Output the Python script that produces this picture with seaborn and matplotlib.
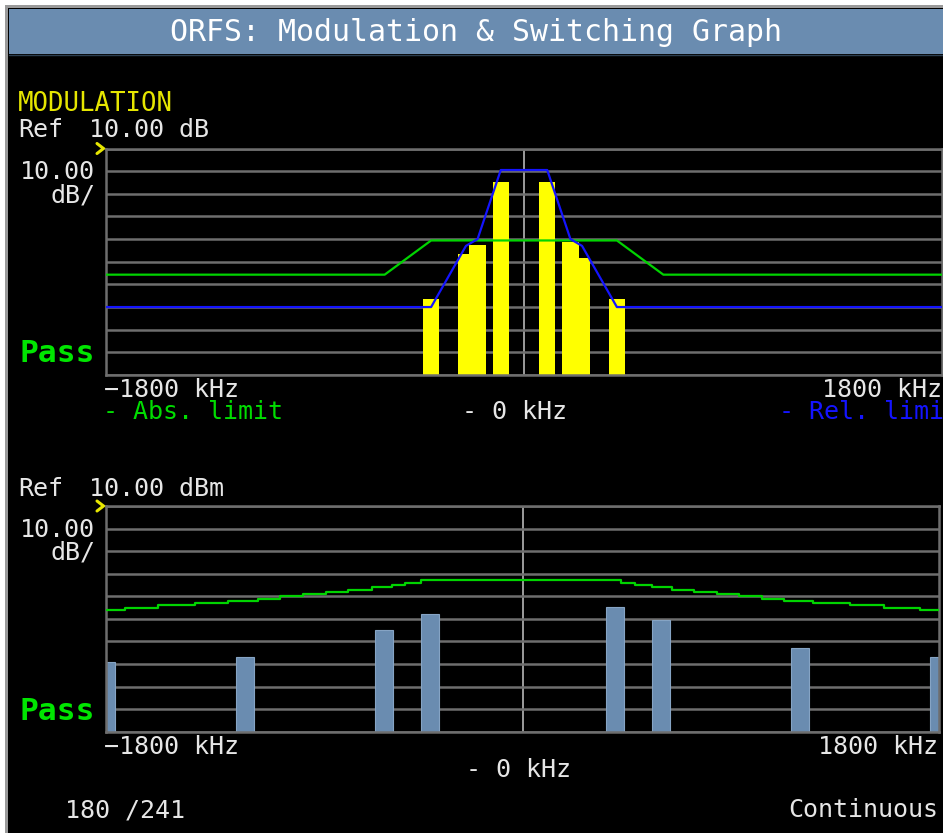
import matplotlib
matplotlib.use("Agg")
import matplotlib.pyplot as plt
import seaborn as sns
import pandas as pd
from matplotlib.patches import Rectangle

# ---------------- data ----------------
# Modulation spectrum (relative dB) measured at offsets (kHz)
mod_offsets_khz = [-400, -250, -200, -100, 100, 200, 250, 400]
mod_levels_db = [-56.4, -36.5, -32.5, -4.6, -4.6, -31.1, -38.2, -56.4]

# Modulation limits
abs_limit_x = [-1800, -600, -400, 400, 600, 1800]
abs_limit_db = [-45.7, -45.7, -30.6, -30.6, -45.7, -45.7]
rel_limit_x = [-1800, -400, -250, -200, -100, 100, 200, 250, 400, 1800]
rel_limit_db = [-60, -60, -33, -30, 0.5, 0.5, -30, -33, -60, -60]

# Switching transients (dBm) at offsets (kHz)
sw_offsets_khz = [-1800, -1200, -600, -400, 400, 600, 1200, 1800]
sw_levels_dbm = [-59.0, -56.8, -44.9, -37.9, -34.9, -40.5, -52.8, -56.8]

# Switching limit (staircase)
sw_limit_x = [-1800, -1716, -1572, -1414, -1270, -1141, -1047, -946, -850, -752,
              -651, -565, -507, -438, 424, 486, 558, 644, 742, 838, 936, 1035,
              1130, 1256, 1414, 1562, 1716, 1800]
sw_limit_dbm = [-36, -35, -34, -33, -32, -31, -30, -29, -28, -27, -26, -25, -24,
                -23, -24, -25, -26, -27, -28, -29, -30, -31, -32, -33, -34, -35,
                -36, -36]

ref_level = 10
db_per_div = 10
n_div = 10
floor_level = ref_level - db_per_div * n_div  # -90

# ---------------- style ----------------
W, H = 943, 833
DPI = 100
sns.set_theme(style="dark")
plt.rcParams["font.family"] = ["DejaVu Sans Mono", "DejaVu Sans"]

WHITE = "#e6e6e6"
GRID = "#6e6e6e"
GREEN_TXT = "#00dd00"
GREEN_LINE = "#00d400"
BLUE = "#1414ff"
YELLOW = "#ffff00"
YELLOW_TXT = "#e6e600"
SLATE = "#6a8cb0"

fig = plt.figure(figsize=(W / DPI, H / DPI), dpi=DPI, facecolor="white")

# background / frame in pixel coords
bg = fig.add_axes([0, 0, 1, 1])
bg.set_xlim(0, W)
bg.set_ylim(H, 0)
bg.axis("off")
bg.add_patch(Rectangle((5, 5), W, H, facecolor="#9a9a9a", edgecolor="none"))
bg.add_patch(Rectangle((8, 8), W, H, facecolor="black", edgecolor="none"))
bg.add_patch(Rectangle((9, 9), W, 45, facecolor=SLATE, edgecolor="none"))
bg.plot([9, W], [54.5, 54.5], color="#2c3e50", lw=1)
bg.text(476, 32, "ORFS: Modulation & Switching Graph", color="white",
        fontsize=21.5, ha="center", va="center")


def px_axes(x0, x1, y0, y1):
    return fig.add_axes([x0 / W, 1 - y1 / H, (x1 - x0) / W, (y1 - y0) / H])


def style_axes(ax):
    ax.set_facecolor("black")
    ax.set_xlim(-1800, 1800)
    ax.set_ylim(floor_level, ref_level)
    ax.set_yticks(range(floor_level, ref_level + 1, db_per_div))
    ax.set_xticks([])
    ax.tick_params(length=0, labelleft=False, labelbottom=False)
    ax.grid(axis="y", color=GRID, lw=1.8)
    ax.grid(axis="x", visible=False)
    ax.set_axisbelow(True)
    for s in ax.spines.values():
        s.set_color(GRID)
        s.set_linewidth(1.8)
    ax.axvline(0, color="#a8a8a8", lw=1.3, zorder=0.5)
    ax.set_xlabel("")
    ax.set_ylabel("")


# ---------------- top: modulation ----------------
ax1 = px_axes(106, 942, 148.5, 375)
mod_df = pd.DataFrame({"offset": mod_offsets_khz, "level": mod_levels_db})
mod_df["height"] = mod_df["level"] - floor_level
sns.barplot(data=mod_df, x="offset", y="height", native_scale=True, orient="x",
            width=1.4, color=YELLOW, errorbar=None, bottom=floor_level,
            linewidth=0, saturation=1, ax=ax1, zorder=2)
sns.lineplot(x=abs_limit_x, y=abs_limit_db, sort=False, estimator=None,
             color=GREEN_LINE, lw=1.6, ax=ax1, zorder=3)
sns.lineplot(x=rel_limit_x, y=rel_limit_db, sort=False, estimator=None,
             color=BLUE, lw=1.6, ax=ax1, zorder=4)
style_axes(ax1)

# ---------------- bottom: switching ----------------
ax2 = px_axes(105.7, 939.3, 506, 731.7)
sw_df = pd.DataFrame({"offset": sw_offsets_khz, "level": sw_levels_dbm})
sw_df["height"] = sw_df["level"] - floor_level
sns.barplot(data=sw_df, x="offset", y="height", native_scale=True, orient="x",
            width=0.39, color=SLATE, errorbar=None, bottom=floor_level,
            linewidth=0.8, edgecolor="#86a4c4", saturation=1, ax=ax2, zorder=2)
sns.lineplot(x=sw_limit_x, y=sw_limit_dbm, sort=False, estimator=None,
             color=GREEN_LINE, lw=1.6, drawstyle="steps-post", ax=ax2, zorder=3)
style_axes(ax2)

# ---------------- text ----------------
FS = 18
bg.text(18, 104, "MODULATION", color=YELLOW_TXT, fontsize=18.5, ha="left", va="center")

for ytop, unit in [(130, "10.00 dB"), (489, "10.00 dBm")]:
    bg.text(18, ytop, "Ref", color=WHITE, fontsize=FS, ha="left", va="center")
    bg.text(89, ytop, unit, color=WHITE, fontsize=FS, ha="left", va="center")

for y_a, y_b in [(172, 195), (530, 553)]:
    bg.text(95, y_a, "10.00", color=WHITE, fontsize=FS, ha="right", va="center")
    bg.text(95, y_b, "dB/", color=WHITE, fontsize=FS, ha="right", va="center")

# yellow reference-level chevrons
for yc in [148.5, 506]:
    bg.plot([97, 103.5, 97], [yc - 5, yc, yc + 5], color=YELLOW_TXT, lw=2.2,
            solid_joinstyle="miter")

for yp in [353, 711]:
    bg.text(20, yp, "Pass", color="#00e600", fontsize=22.5, fontweight="bold",
            ha="left", va="center")

bg.text(104, 390, "\u22121800 kHz", color=WHITE, fontsize=FS, ha="left", va="center")
bg.text(942, 390, "1800 kHz", color=WHITE, fontsize=FS, ha="right", va="center")
bg.text(103, 412, "- Abs. limit", color=GREEN_TXT, fontsize=FS, ha="left", va="center")
bg.text(515, 412, "- 0 kHz", color=WHITE, fontsize=FS, ha="center", va="center")
bg.text(779, 412, "- Rel. limit", color=BLUE, fontsize=FS, ha="left", va="center")

bg.text(104, 747, "\u22121800 kHz", color=WHITE, fontsize=FS, ha="left", va="center")
bg.text(938, 747, "1800 kHz", color=WHITE, fontsize=FS, ha="right", va="center")
bg.text(518, 770, "- 0 kHz", color=WHITE, fontsize=FS, ha="center", va="center")
bg.text(65, 810, "180 /241", color=WHITE, fontsize=FS, ha="left", va="center")
bg.text(938, 810, "Continuous", color=WHITE, fontsize=FS, ha="right", va="center")

fig.savefig("out.png", dpi=DPI, facecolor=fig.get_facecolor())
